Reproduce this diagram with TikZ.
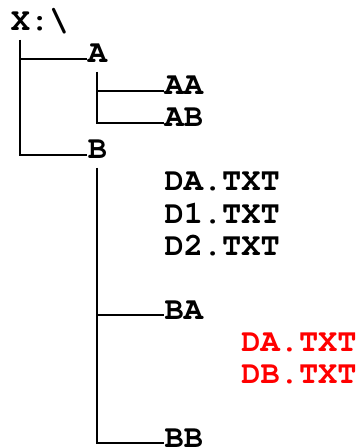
\documentclass[tikz,border=0pt]{standalone}
\usepackage[T1]{fontenc}
\usepackage{courier}
\usepackage{xcolor}
\usepackage{tikz}
\definecolor{filec}{HTML}{FF0000}
\newcommand{\drive}{X:\textbackslash}

\begin{document}
\begin{tikzpicture}[x=9.6pt, y=-16pt,
    entry/.style={anchor=base west, inner sep=0pt, font=\fontsize{16}{16}\selectfont\ttfamily\bfseries},
    branch/.style={line width=1pt}]
  \useasboundingbox (-5.3pt,15.5pt) rectangle (173.7pt,-208.5pt);
  \node[entry] (root) at (0,0) {\drive};
  \foreach \name/\col/\row/\txt in {a/4/1/A, aa/8/2/AA, ab/8/3/AB, b/4/4/B, ba/8/9/BA, bb/8/13/BB}
    {\node[entry] (\name) at (\col,\row) {\txt};}
  \foreach \name/\row/\txt in {da/5/DA.TXT, done/6/D1.TXT, dtwo/7/D2.TXT}
    {\node[entry] (\name) at (8,\row) {\txt};}
  \foreach \name/\row/\txt in {bada/10/DA.TXT, badb/11/DB.TXT}
    {\node[entry, text=filec] (\name) at (12,\row) {\txt};}
  % tree lines
  \draw[branch] ([xshift=4.8pt,yshift=-4.5pt]root.base west) |- (a.mid west);
  \draw[branch] ([xshift=4.8pt,yshift=-4.5pt]root.base west) |- (b.mid west);
  \draw[branch] ([xshift=4.8pt,yshift=-4.5pt]a.base west) |- (aa.mid west);
  \draw[branch] ([xshift=4.8pt,yshift=-4.5pt]a.base west) |- (ab.mid west);
  \draw[branch] ([xshift=4.8pt,yshift=-4.5pt]b.base west) |- (ba.mid west);
  \draw[branch] ([xshift=4.8pt,yshift=-4.5pt]b.base west) |- (bb.mid west);
\end{tikzpicture}
\end{document}
